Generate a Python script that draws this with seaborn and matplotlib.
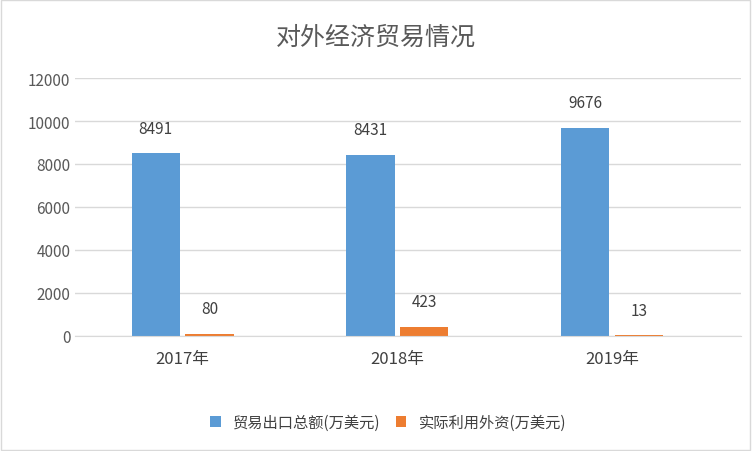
import matplotlib
matplotlib.use("Agg")
import matplotlib.pyplot as plt
import seaborn as sns
import pandas as pd

years = ["2017年", "2018年", "2019年"]
series = ["贸易出口总额(万美元)", "实际利用外资(万美元)"]
export_vals = [8491, 8431, 9676]
fdi_vals = [80, 423, 13]
yticks = [0, 2000, 4000, 6000, 8000, 10000, 12000]

plt.rcParams["font.family"] = ["Noto Sans CJK SC", "DejaVu Sans"]
df = pd.DataFrame({
    "year": years * 2,
    "series": [series[0]] * 3 + [series[1]] * 3,
    "value": export_vals + fdi_vals,
})

fig = plt.figure(figsize=(7.52, 4.52), dpi=100)
ax = fig.add_axes([0.10, 0.255, 0.885, 0.57])
sns.barplot(data=df, x="year", y="value", hue="series", ax=ax, saturation=1,
            palette=["#5B9BD5", "#ED7D31"], width=0.5, gap=0.1, legend=True)
for c in ax.containers:
    ax.bar_label(c, padding=12, fontsize=11, color="#404040")
ax.set_ylim(0, 12000)
ax.set_yticks(yticks)
ax.set_yticklabels([str(v) for v in yticks], fontsize=11, color="#595959")
ax.tick_params(axis="x", labelsize=12, colors="#404040", length=0, pad=10)
ax.tick_params(axis="y", length=0)
ax.grid(axis="y", color="#D9D9D9", lw=1)
ax.set_axisbelow(True)
for s in ["top", "right", "left"]:
    ax.spines[s].set_visible(False)
ax.spines["bottom"].set_color("#D9D9D9")
ax.set_xlabel(""); ax.set_ylabel("")
ax.set_xlim(-0.5, 2.6)
fig.suptitle("对外经济贸易情况", y=0.945, fontsize=18, color="#595959")
ax.legend(loc="upper center", bbox_to_anchor=(0.47, -0.25), ncol=2, frameon=False,
          fontsize=11, handlelength=0.7, handleheight=0.7, columnspacing=1.0,
          labelcolor="#404040")
fig.patches.append(plt.Rectangle((0.001, 0.002), 0.997, 0.996, transform=fig.transFigure,
                                 fill=False, edgecolor="#D9D9D9", lw=1))
fig.savefig("out.png")
